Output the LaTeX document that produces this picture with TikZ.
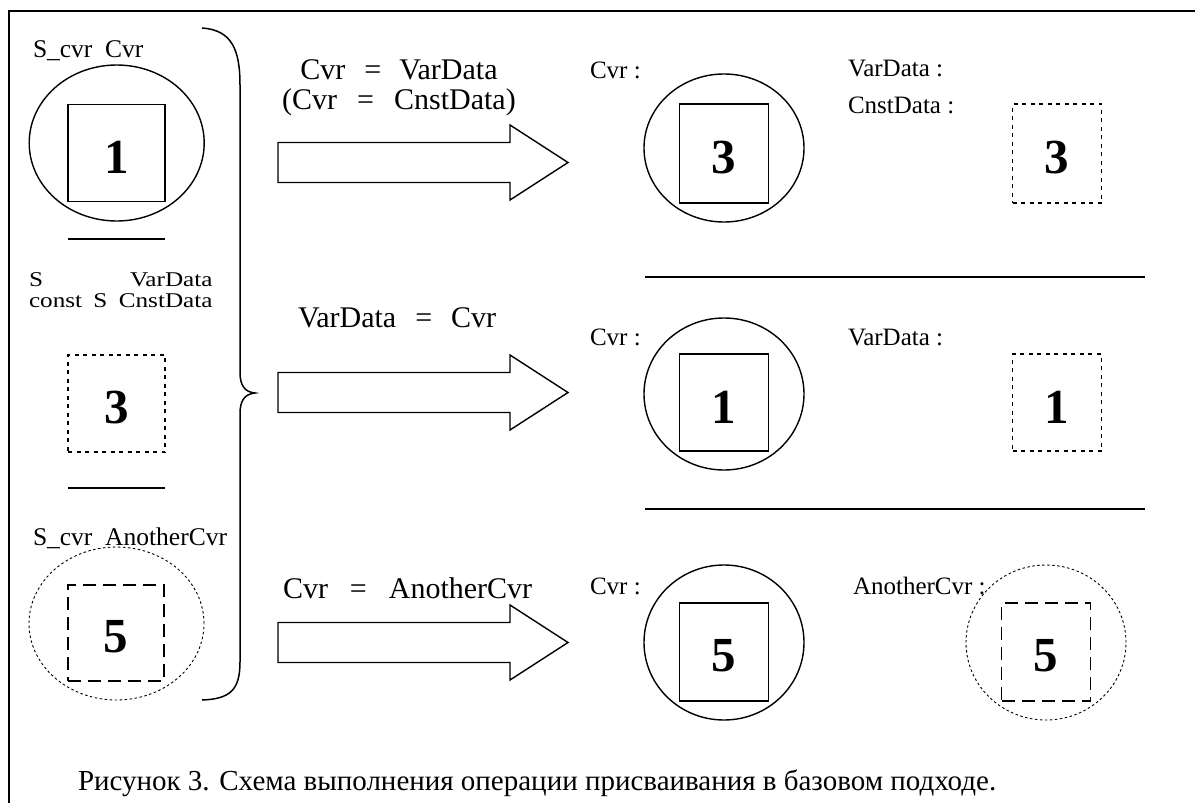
\documentclass[tikz,border=0pt]{standalone}
\usepackage{fontspec}
\setmainfont{Liberation Serif}
\usetikzlibrary{shapes.geometric}
\begin{document}
\begin{tikzpicture}[x=1pt,y=-1pt,
  every node/.style={inner sep=0pt, outer sep=0pt},
  lab/.style={anchor=base west, font=\fontsize{25.5}{28}\selectfont},
  rlab/.style={anchor=base west, font=\fontsize{25}{27}\selectfont},
  op/.style={font=\fontsize{30}{30}\selectfont},
  dig/.style={font=\fontsize{49}{50}\selectfont\bfseries},
  solidbox/.style={draw, line width=1.5pt},
  dotbox/.style={draw, line width=1.8pt, dash pattern=on 4pt off 4.5pt},
  dashbox/.style={draw, line width=1.6pt, dash pattern=on 13pt off 7pt},
  solidell/.style={draw, ellipse, line width=1.4pt},
  dotell/.style={draw, ellipse, line width=0.9pt, dash pattern=on 2.5pt off 2.5pt},
  bigarrow/.style={draw, line width=1.4pt, line join=miter},
  sep/.style={line width=1.6pt}
]
\useasboundingbox (0,0) rectangle (1195,803);
% frame
\draw[line width=2.5pt] (9,803) -- (9,11) -- (1195,11);

% ---------- left column ----------
\node[lab] (lt1) at (33,57) {S\_cvr\ \ Cvr};
\node[solidell, minimum width=175pt, minimum height=156pt] (le1) at (116.7,143) {};
\node[solidbox, minimum width=97pt, minimum height=97pt] (lb1) at (116.5,153) {};
\node[dig] (ld1) at (116.5,157) {1};
\draw[sep] (68,239) -- (165,239);

\node[anchor=north west, align=left, font=\fontsize{21}{21}\selectfont] (lt2) at (29,272.5)
  {\scalebox{1.2}[1]{\makebox[153pt][s]{S VarData}}\\
   \scalebox{1.2}[1]{\makebox[153pt][s]{const S CnstData}}};
\node[dotbox, minimum width=97pt, minimum height=97pt] (lb2) at (116.5,403.5) {};
\node[dig] (ld2) at (116.5,408) {3};
\draw[sep] (68,488) -- (165,488);

\node[lab] (lt4) at (33,545) {S\_cvr\ \ AnotherCvr};
\node[dotell, minimum width=175pt, minimum height=153pt] (le3) at (116.5,623.5) {};
\node[dashbox, minimum width=96pt, minimum height=96pt] (lb3) at (116,633) {};
\node[dig] (ld3) at (116,637) {5};

% brace
\draw[line width=1.5pt] (202,28) .. controls (232,30) and (240,50) .. (240,85)
  -- (240,372) .. controls (240,386) and (245,392) .. (255,393)
  .. controls (245,394) and (240,400) .. (240,414)
  -- (240,662) .. controls (240,690) and (230,699) .. (202,700);

% ---------- operations ----------
\node[op, anchor=north, align=center] (o1) at (399,59.5)
  {Cvr\hspace{19pt}=\hspace{18pt}VarData\\[0pt](Cvr\hspace{20pt}=\hspace{20pt}CnstData)};
\draw[bigarrow] (278,142.5) -- (510,142.5) -- (510,125) -- (568,162.5) -- (510,200) -- (510,182.5) -- (278,182.5) -- cycle;

\node[op, anchor=base west] (o2) at (298,327) {VarData\hspace{19pt}=\hspace{19pt}Cvr};
\draw[bigarrow] (278,372.5) -- (510,372.5) -- (510,355) -- (568,392.5) -- (510,430) -- (510,412.5) -- (278,412.5) -- cycle;

\node[op, anchor=base west] (o3) at (283,598) {Cvr\hspace{22pt}=\hspace{22pt}AnotherCvr};
\draw[bigarrow] (278,622.5) -- (510,622.5) -- (510,605) -- (568,642.5) -- (510,680) -- (510,662.5) -- (278,662.5) -- cycle;

% ---------- right column ----------
% row 1
\node[rlab] (r1a) at (590,78) {Cvr :};
\node[solidell, minimum width=160pt, minimum height=148pt] (re1) at (724,148) {};
\node[solidbox, minimum width=89pt, minimum height=99pt] (rb1) at (724,153.5) {};
\node[dig] (rd1) at (724,158) {3};
\node[rlab] (r1b) at (848,76) {VarData :};
\node[rlab] (r1c) at (848,113) {CnstData :};
\node[dotbox, minimum width=89pt, minimum height=99pt] (rb1b) at (1057,153.5) {};
\node[dig] (rd1b) at (1057,158) {3};

\draw[sep] (645,277) -- (1145,277);

% row 2
\node[rlab] (r2a) at (590,345) {Cvr :};
\node[solidell, minimum width=160pt, minimum height=152pt] (re2) at (724,394) {};
\node[solidbox, minimum width=89pt, minimum height=97pt] (rb2) at (724,402.5) {};
\node[dig] (rd2) at (724,407) {1};
\node[rlab] (r2b) at (848,345) {VarData :};
\node[dotbox, minimum width=89pt, minimum height=97pt] (rb2b) at (1057,402.5) {};
\node[dig] (rd2b) at (1057,407) {1};

\draw[sep] (645,509) -- (1145,509);

% row 3
\node[rlab] (r3a) at (590,594) {Cvr :};
\node[solidell, minimum width=160pt, minimum height=155pt] (re3) at (724,642.5) {};
\node[solidbox, minimum width=89pt, minimum height=98pt] (rb3) at (724,652) {};
\node[dig] (rd3) at (724,656) {5};
\node[rlab] (r3b) at (853,594) {AnotherCvr :};
\node[dotell, minimum width=160pt, minimum height=155pt] (re3b) at (1046,642.5) {};
\node[dashbox, minimum width=89pt, minimum height=98pt] (rb3b) at (1046,652) {};
\node[dig] (rd3b) at (1046,656) {5};

% caption
\node[anchor=base west, font=\fontsize{29}{32}\selectfont] (cap) at (78,790)
  {Рисунок 3. Схема выполнения операции присваивания в базовом подходе.};
\end{tikzpicture}
\end{document}
